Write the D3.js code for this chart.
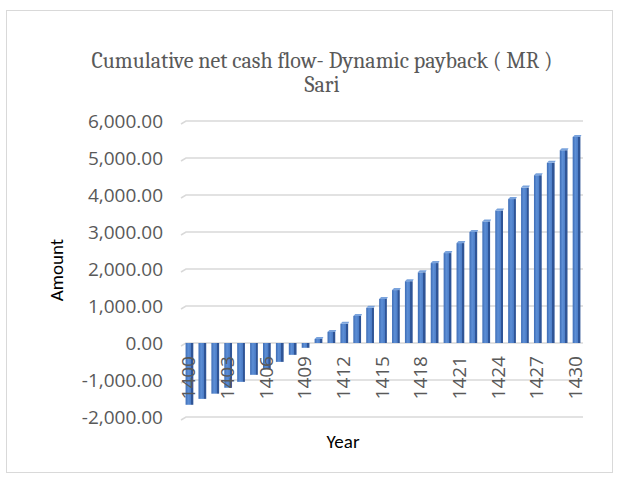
<!DOCTYPE html>
<meta charset='utf-8'>
<style>
body { margin: 0; background: #fff; }
svg text { font-family: Carlito, Lato, 'Open Sans', sans-serif; }
.title { font-family: Cambria, 'Liberation Serif', 'DejaVu Serif', serif; fill: #595959; font-size: 22px; }
.axis text { fill: #595959; font-size: 19px; font-family: 'Open Sans', sans-serif; }
.axis .domain, .axis line { display: none; }
.grid path { stroke: #d9d9d9; stroke-width: 1.5px; fill: none; }
.label { fill: #000; font-size: 19px; }
</style>
<body>
<script src='https://cdnjs.cloudflare.com/ajax/libs/d3/7.8.5/d3.min.js'></script>
<script>

// Data

let years = d3.range(1400, 1431)
let values = [
	-1670, -1510, -1370, -1210, -1050, -860, -700, -510, -320, -130,
	110, 300, 520, 730, 950, 1190, 1430, 1670, 1910, 2160,
	2430, 2700, 3000, 3285, 3580, 3890, 4200, 4535, 4870, 5210, 5570 ]
let yTicks = [-2000, -1000, 0, 1000, 2000, 3000, 4000, 5000, 6000]
let xTicks = years.filter(y => (y - 1400) % 3 == 0)
let data = years.map((y, i) => ({year: y, value: values[i]}))


// Boilerplate

let W = 618, H = 484,
	plot = {left: 183, right: 583, top: 121, bottom: 417}

let x = d3.scaleBand().domain(years).range([plot.left, plot.right]).paddingInner(0.4).paddingOuter(0.2),
	y = d3.scaleLinear().domain([-2000, 6000]).range([plot.bottom, plot.top])

let svg = d3.select('body').append('svg').attr('width', W).attr('height', H)

svg.append('rect')
	.attr('x', 6.5).attr('y', 10.5).attr('width', 606).attr('height', 462)
	.attr('fill', 'none').attr('stroke', '#d9d9d9')

let grad = svg.append('defs').append('linearGradient').attr('id', 'barfill')
	.attr('x1', 0).attr('x2', 1).attr('y1', 0).attr('y2', 0)
grad.selectAll('stop').data([
	[0, '#3d6cb5'], [0.35, '#5d8fd6'], [0.7, '#4b7cc6'], [0.72, '#2f5597'], [1, '#2f5597']])
	.join('stop').attr('offset', d => d[0]).attr('stop-color', d => d[1])


// Title

svg.append('text').attr('class', 'title')
	.attr('x', 322).attr('y', 68).attr('text-anchor', 'middle')
	.text('Cumulative net cash flow- Dynamic payback ( MR )')
svg.append('text').attr('class', 'title')
	.attr('x', 322).attr('y', 92).attr('text-anchor', 'middle')
	.text('Sari')


// Gridlines with the little perspective kink at the left

svg.append('g').attr('class', 'grid')
	.selectAll('path').data(yTicks).join('path')
	.attr('d', d => `M${plot.left - 2},${y(d) + 3}L${plot.left + 3},${y(d)}H${plot.right}`)


// Y axis

let fmt = d3.format(',.2f')
svg.append('g').attr('class', 'y axis')
	.attr('transform', `translate(${plot.left - 20},0)`)
	.call(d3.axisLeft(y).tickValues(yTicks).tickFormat(d => fmt(d).replace('\u2212', '-')).tickSize(0).tickPadding(0))


// Bars

let bw = x.bandwidth()
let bars = svg.append('g').selectAll('g').data(data).join('g')
bars.append('rect')
	.attr('x', d => x(d.year))
	.attr('y', d => Math.min(y(d.value), y(0)))
	.attr('width', bw)
	.attr('height', d => Math.abs(y(d.value) - y(0)))
	.attr('fill', 'url(#barfill)')
bars.filter(d => d.value > 0).append('path')
	.attr('d', d => `M${x(d.year)},${y(d.value)}L${x(d.year) + 2},${y(d.value) - 2}H${x(d.year) + bw + 1}L${x(d.year) + bw},${y(d.value)}Z`)
	.attr('fill', '#7aa3dc')


// X axis labels

svg.append('g').attr('class', 'x axis')
	.attr('transform', `translate(0,${y(0)})`)
	.call(d3.axisBottom(x).tickValues(xTicks).tickSize(0).tickPadding(0))
	.call(g => g.selectAll('text')
		.attr('transform', 'rotate(-90)')
		.attr('x', -13).attr('y', -1).attr('dy', '0.35em')
		.style('text-anchor', 'end'))


// Axis titles

svg.append('text').attr('class', 'label')
	.attr('transform', `translate(63,270) rotate(-90)`)
	.attr('text-anchor', 'middle').text('Amount')
svg.append('text').attr('class', 'label')
	.attr('x', 343).attr('y', 448).attr('text-anchor', 'middle').text('Year')

</script>
</body>
